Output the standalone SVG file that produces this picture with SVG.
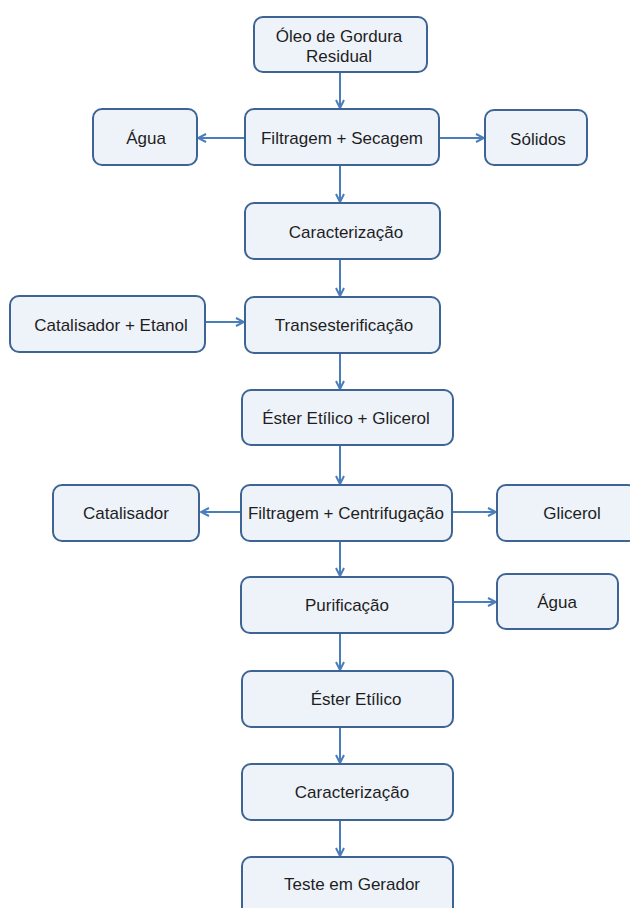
<svg xmlns="http://www.w3.org/2000/svg" width="630" height="908" viewBox="0 0 630 908">
<style>
.box{fill:#eef3fa;stroke:#3d6494;stroke-width:2}
.t{font-family:"Liberation Sans",Arial,sans-serif;font-size:17px;fill:#1e1e1e;text-anchor:middle}
.c{fill:none;stroke:#4a7ebb;stroke-width:2;marker-end:url(#ah)}
</style>
<defs>
<marker id="ah" viewBox="0 0 10 10" refX="9" refY="5" markerWidth="5" markerHeight="5" orient="auto" markerUnits="strokeWidth">
<polyline points="1,1 9,5 1,9" fill="none" stroke="#4a7ebb" stroke-width="2"/>
</marker>
</defs>
<rect width="630" height="908" fill="#ffffff"/>
<g id="connectors">
<path class="c" d="M340 72 V108"/>
<path class="c" d="M245 138 H198"/>
<path class="c" d="M439 138 H484"/>
<path class="c" d="M340 165 V202"/>
<path class="c" d="M340 259 V296"/>
<path class="c" d="M206 322 H244"/>
<path class="c" d="M340 353 V389"/>
<path class="c" d="M340 445 V484"/>
<path class="c" d="M241 512 H201"/>
<path class="c" d="M452 512 H496"/>
<path class="c" d="M340 541 V576"/>
<path class="c" d="M453 602 H496"/>
<path class="c" d="M340 633 V670"/>
<path class="c" d="M340 727 V763"/>
<path class="c" d="M340 820 V856"/>
</g>
<g id="n1"><rect class="box" x="254" y="17" width="173" height="55" rx="9"/><text class="t" x="339" y="42">Óleo de Gordura</text><text class="t" x="339" y="62">Residual</text></g>
<g id="n2"><rect class="box" x="245" y="109" width="194" height="56" rx="9"/><text class="t" x="342" y="144">Filtragem + Secagem</text></g>
<g id="n3"><rect class="box" x="93" y="109" width="104" height="56" rx="9"/><text class="t" x="146" y="144">Água</text></g>
<g id="n4"><rect class="box" x="485" y="110" width="102" height="55" rx="9"/><text class="t" x="538" y="145">Sólidos</text></g>
<g id="n5"><rect class="box" x="245" y="203" width="195" height="56" rx="9"/><text class="t" x="346" y="238">Caracterização</text></g>
<g id="n6"><rect class="box" x="10" y="296" width="195" height="56" rx="9"/><text class="t" x="111" y="331">Catalisador + Etanol</text></g>
<g id="n7"><rect class="box" x="245" y="297" width="195" height="56" rx="9"/><text class="t" x="344" y="331">Transesterificação</text></g>
<g id="n8"><rect class="box" x="242" y="390" width="211" height="55" rx="9"/><text class="t" x="346" y="424">Éster Etílico + Glicerol</text></g>
<g id="n9"><rect class="box" x="241" y="485" width="211" height="56" rx="9"/><text class="t" x="346" y="519">Filtragem  + Centrifugação</text></g>
<g id="n10"><rect class="box" x="53" y="485" width="146" height="56" rx="9"/><text class="t" x="126" y="519">Catalisador</text></g>
<g id="n11"><rect class="box" x="497" y="485" width="140" height="56" rx="9"/><text class="t" x="572" y="519">Glicerol</text></g>
<g id="n12"><rect class="box" x="241" y="577" width="212" height="56" rx="9"/><text class="t" x="347" y="611">Purificação</text></g>
<g id="n13"><rect class="box" x="497" y="574" width="121" height="55" rx="9"/><text class="t" x="557" y="608">Água</text></g>
<g id="n14"><rect class="box" x="242" y="671" width="211" height="56" rx="9"/><text class="t" x="356" y="705">Éster Etílico</text></g>
<g id="n15"><rect class="box" x="242" y="764" width="211" height="56" rx="9"/><text class="t" x="352" y="798">Caracterização</text></g>
<g id="n16"><rect class="box" x="242" y="857" width="211" height="60" rx="9"/><text class="t" x="352" y="890">Teste em Gerador</text></g>
</svg>
